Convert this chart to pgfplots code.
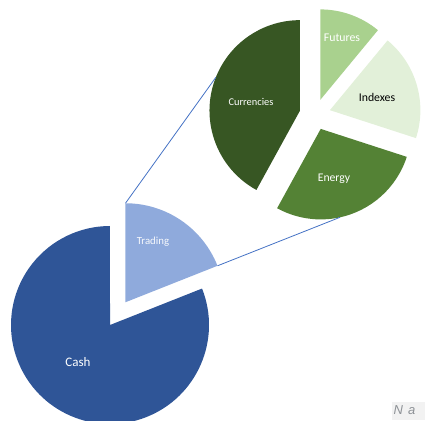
\documentclass[border=0pt]{standalone}
\usepackage{pgfplots}
\pgfplotsset{compat=1.18}
\usepackage{pgfplotstable}
\usetikzlibrary{calc}
\usepackage{fontspec}
\setmainfont{Carlito}
\newfontfamily\arialfont{Liberation Sans}

\definecolor{cashblue}{HTML}{2F5597}
\definecolor{tradeblue}{HTML}{8FAADC}
\definecolor{curgreen}{HTML}{375623}
\definecolor{futgreen}{HTML}{A9D18E}
\definecolor{idxgreen}{HTML}{E2F0D9}
\definecolor{enggreen}{HTML}{548235}
\definecolor{linkblue}{HTML}{4472C4}
\definecolor{notegray}{HTML}{8E9297}
\definecolor{notebox}{HTML}{F2F2F2}

% main pie
\pgfplotstableread{
name value
Trading 19
Cash 81
}\maintable
% breakdown of Trading
\pgfplotstableread{
name value
Futures 11
Indexes 19
Energy 28
Currencies 42
}\subtable

\newcommand\getval[3]{\pgfplotstablegetelem{#2}{value}\of#1\let#3\pgfplotsretval}

% cx, cy, radius, start angle, end angle, explode, colour
\newcommand\slice[7]{%
  \fill[#7] (axis cs:#1,#2) ++({(#4+#5)/2}:#6pt) -- ++(#4:#3pt)
    arc[start angle=#4, end angle=#5, radius=#3pt] -- cycle;}

\begin{document}
\begin{tikzpicture}
\getval\maintable{0}\vTrading
\getval\maintable{1}\vCash
\getval\subtable{0}\vFut
\getval\subtable{1}\vIdx
\getval\subtable{2}\vEng
\getval\subtable{3}\vCur
\pgfmathsetmacro\mainsum{\vTrading+\vCash}
\pgfmathsetmacro\aA{90-(\vTrading/\mainsum)*360}
\pgfmathsetmacro\aB{\aA-(\vCash/\mainsum)*360}
\pgfmathsetmacro\subsum{\vFut+\vIdx+\vEng+\vCur}
\pgfmathsetmacro\bA{90-(\vFut/\subsum)*360}
\pgfmathsetmacro\bB{\bA-(\vIdx/\subsum)*360}
\pgfmathsetmacro\bC{\bB-(\vEng/\subsum)*360}
\pgfmathsetmacro\bD{\bC-(\vCur/\subsum)*360}
\pgfmathsetmacro\mT{(90+\aA)/2}
\pgfmathsetmacro\mCur{(\bC+\bD)/2}
\pgfmathsetmacro\mEng{(\bB+\bC)/2}
\begin{axis}[
    scale only axis,
    width=425pt, height=420pt,
    xmin=0, xmax=425, ymin=0, ymax=420,
    hide axis]
  % main pie
  \slice{110}{95}{99}{\aA}{\aB}{0}{cashblue}
  \slice{110}{95}{99}{90}{\aA}{27.5}{tradeblue}
  % second pie
  \slice{315}{305.5}{90.5}{90}{\bA}{15.5}{futgreen}
  \slice{315}{305.5}{90.5}{\bA}{\bB}{15.5}{idxgreen}
  \slice{315}{305.5}{90.5}{\bB}{\bC}{15.5}{enggreen}
  \slice{315}{305.5}{90.5}{\bC}{\bD}{15.5}{curgreen}
  % connector lines
  \draw[linkblue, line width=0.8pt]
    ($(axis cs:110,95)+(\mT:27.5pt)+(90:99pt)$) --
    ($(axis cs:315,305.5)+(\mCur:15.5pt)+(158.4:90.5pt)$);
  \draw[linkblue, line width=0.8pt]
    ($(axis cs:110,95)+(\mT:27.5pt)+(\aA:99pt)$) --
    ($(axis cs:315,305.5)+(\mEng:15.5pt)+(-77.7:90.5pt)$);
  % labels
  \node[text=white, font=\fontsize{13}{13}\selectfont] at (axis cs:78,58) {Cash};
  \node[text=white!92!tradeblue, font=\fontsize{10.8}{11}\selectfont] at (axis cs:153,178) {Trading};
  \node[text=white, font=\fontsize{10.4}{11}\selectfont] at (axis cs:251,318) {Currencies};
  \node[text=white, font=\fontsize{11.8}{12}\selectfont] at (axis cs:342,382) {Futures};
  \node[text=black, font=\fontsize{11.8}{12}\selectfont] at (axis cs:377,323) {Indexes};
  \node[text=white, font=\fontsize{11.7}{12}\selectfont] at (axis cs:334,241) {Energy};
  % cut-off note
  \fill[notebox] (axis cs:392,0) rectangle (axis cs:432,18);
  \node[anchor=west, inner sep=0pt, text=notegray,
        font=\arialfont\itshape\fontsize{13}{13}\selectfont] at (axis cs:393.5,9.5) {N\hspace{5pt}a};
\end{axis}
\pgfresetboundingbox
\path[use as bounding box] (0,0) rectangle (425pt,420pt);
\end{tikzpicture}
\end{document}
